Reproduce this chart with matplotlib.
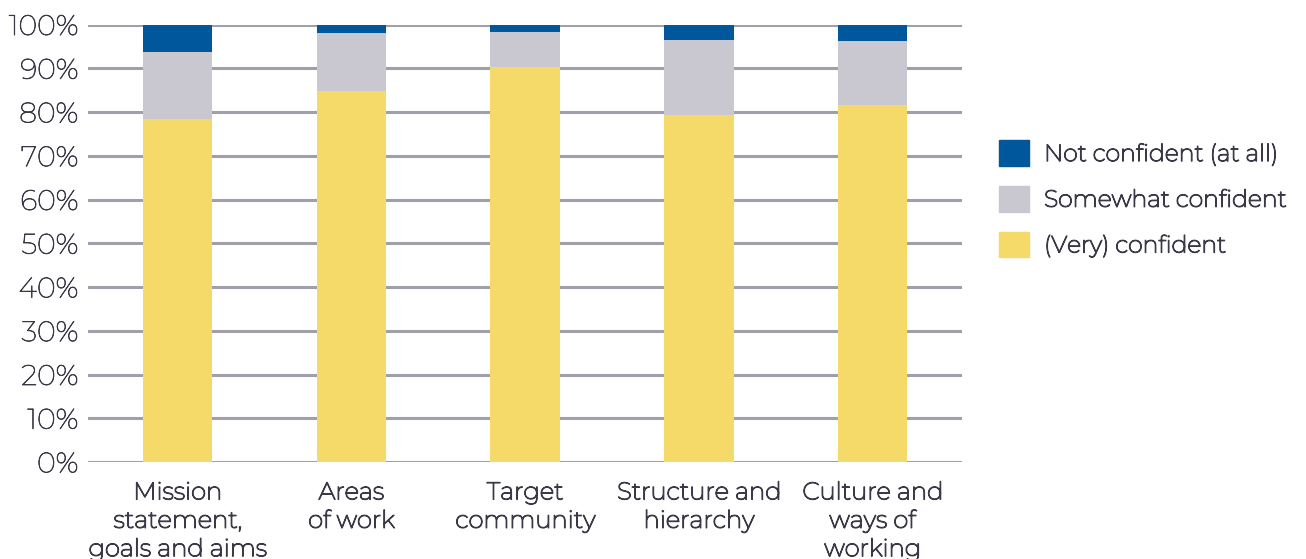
import matplotlib.pyplot as plt
import matplotlib.patheffects as pe
from matplotlib.patches import Patch

# Уверенность по категориям, в процентах
categories = ['Mission\nstatement,\ngoals and aims', 'Areas\nof work', 'Target\ncommunity',
              'Structure and\nhierarchy', 'Culture and\nways of\nworking']
very_confident = [78.4, 84.8, 90.3, 79.3, 81.6]
somewhat_confident = [15.3, 13.3, 8.0, 17.2, 14.6]
not_confident = [6.3, 1.9, 1.7, 3.5, 3.8]

series_names = ['Not confident (at all)', 'Somewhat confident', '(Very) confident']
colors = {'blue': '#00579b', 'grey': '#c9c8d1', 'yellow': '#f5da6a'}
text_color = '#3a3948'

plt.rcParams['font.family'] = ['Montserrat', 'Open Sans', 'DejaVu Sans']

fig = plt.figure(figsize=(13.06, 5.59), dpi=100)
ax = fig.add_axes([0.0674, 0.1735, 0.6692, 0.7825])

x = list(range(len(categories)))
width = 0.40
bottom2 = [a + b for a, b in zip(very_confident, somewhat_confident)]

ax.bar(x, very_confident, width, color=colors['yellow'], zorder=3)
ax.bar(x, somewhat_confident, width, bottom=very_confident, color=colors['grey'], zorder=3)
ax.bar(x, not_confident, width, bottom=bottom2, color=colors['blue'], zorder=3)

ax.set_xlim(-0.515, 4.515)
ax.set_ylim(0, 100)
ax.set_yticks(range(0, 101, 10))
ax.set_yticklabels([f'{v}%' for v in range(0, 101, 10)])
ax.set_xticks(x)
ax.set_xticklabels(categories, linespacing=1.3)

ax.yaxis.grid(True, color='#a09fab', linewidth=2.2, zorder=1)
ax.set_axisbelow(True)
for s in ax.spines.values():
    s.set_visible(False)
ax.tick_params(axis='both', length=0, colors=text_color)
ax.tick_params(axis='y', pad=7, labelsize=20.5)
ax.tick_params(axis='x', pad=14, labelsize=17.5)

# тонкий шрифт делаем чуть плотнее обводкой
thick = [pe.withStroke(linewidth=0.9, foreground=text_color)]
light = [pe.withStroke(linewidth=0.5, foreground=text_color)]
for lbl in ax.get_xticklabels():
    lbl.set_path_effects(thick)
for lbl in ax.get_yticklabels():
    lbl.set_path_effects(light)

handles = [Patch(color=colors['blue']), Patch(color=colors['grey']), Patch(color=colors['yellow'])]
leg = fig.legend(handles, series_names, loc='center left', bbox_to_anchor=(0.756, 0.644),
                 frameon=False, fontsize=17.0, handlelength=1.28, handleheight=1.28,
                 handletextpad=0.62, labelspacing=0.85, borderpad=0, labelcolor=text_color)
for t in leg.get_texts():
    t.set_path_effects(thick)

fig.savefig('out.png', dpi=100)
